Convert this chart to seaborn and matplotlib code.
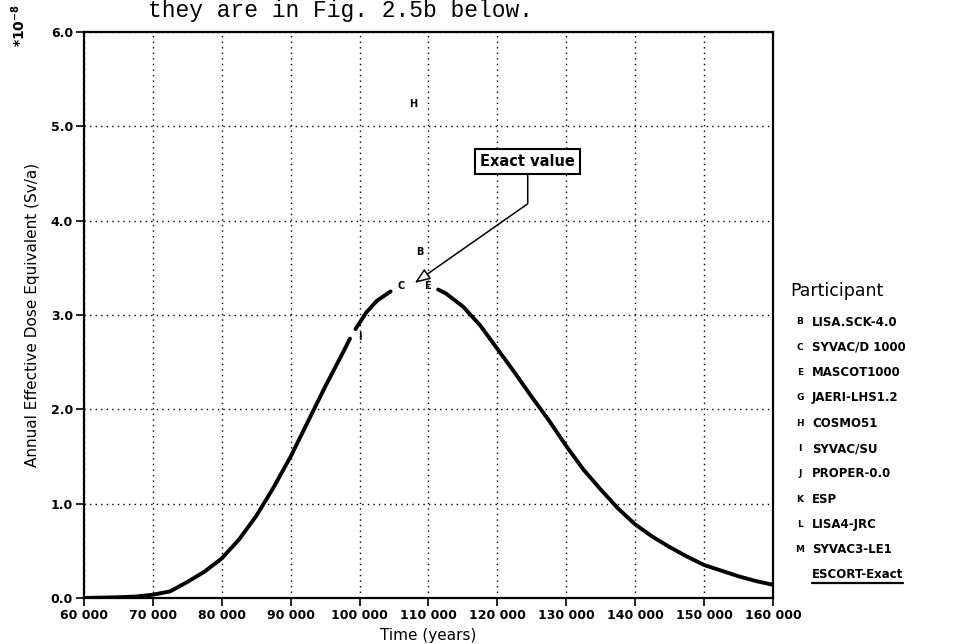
import numpy as np
import pandas as pd
import matplotlib
matplotlib.use("Agg")
import matplotlib.pyplot as plt
from matplotlib.ticker import FuncFormatter
import seaborn as sns

# ---- data ----
curve_x = [60000, 65000, 67500, 70000, 72500, 75000, 77500, 80000, 82500, 85000,
           87500, 90000, 92500, 95000, 97500, 98600, np.nan, 99400, 101000, 102500,
           104500, np.nan,
           111400, 112500, 115000, 117500, 120000, 122500, 125000, 127500, 130000,
           132500, 135000, 137500, 140000, 142500, 145000, 147500, 150000, 152500,
           155000, 157500, 160000]
curve_y = [0.0, 0.008, 0.015, 0.035, 0.07, 0.17, 0.28, 0.42, 0.62, 0.87,
           1.17, 1.50, 1.87, 2.24, 2.59, 2.75, np.nan, 2.85, 3.03, 3.15,
           3.25, np.nan,
           3.27, 3.23, 3.09, 2.89, 2.64, 2.39, 2.13, 1.88, 1.61,
           1.36, 1.15, 0.95, 0.78, 0.65, 0.54, 0.44, 0.35, 0.29,
           0.23, 0.18, 0.14]

marker_labels = ['B', 'C', 'E', 'H', 'I']
marker_x = [108800, 106000, 109900, 107800, 99970]
marker_y = [3.67, 3.31, 3.31, 5.24, 2.77]

exact_x, exact_y = 108000, 3.34
exact_label = "Exact value"

legend_codes = ['B', 'C', 'E', 'G', 'H', 'I', 'J', 'K', 'L', 'M']
legend_names = ['LISA.SCK-4.0', 'SYVAC/D 1000', 'MASCOT1000', 'JAERI-LHS1.2',
                'COSMO51', 'SYVAC/SU', 'PROPER-0.0', 'ESP', 'LISA4-JRC', 'SYVAC3-LE1']
exact_name = 'ESCORT-Exact'

x_ticks = list(range(60000, 160001, 10000))
y_ticks = [0.0, 1.0, 2.0, 3.0, 4.0, 5.0, 6.0]

# ---- build table ----
cx = np.array(curve_x, dtype=float)
cy = np.array(curve_y, dtype=float)
seg = np.cumsum(np.isnan(cx))
df = pd.DataFrame({"x": cx, "y": cy, "seg": seg}).dropna()

sns.set_style("white")
plt.rcParams['font.family'] = ['DejaVu Sans']
for k in ['text.color', 'axes.labelcolor', 'xtick.color', 'ytick.color', 'axes.edgecolor']:
    plt.rcParams[k] = 'black'

fig = plt.figure(figsize=(9.64, 6.44), dpi=100)
ax = fig.add_axes([84/964, 1 - 598/644, (773-84)/964, (598-32)/644])

sns.lineplot(data=df, x="x", y="y", units="seg", estimator=None, sort=False,
             color="black", lw=2.8, ax=ax, legend=False,
             solid_joinstyle='round', solid_capstyle='round')

for lab, mx, my in zip(marker_labels, marker_x, marker_y):
    ax.text(mx, my, lab, fontsize=7, fontweight='bold', ha='center', va='center')

ax.annotate(exact_label, xy=(exact_x, exact_y), xytext=(124400, 4.63),
            ha='center', va='center', fontsize=10.5, fontweight='bold',
            bbox=dict(boxstyle='square,pad=0.35', fc='white', ec='black', lw=1.5),
            arrowprops=dict(arrowstyle='-|>,head_length=0.9,head_width=0.35',
                            fc='white', ec='black', lw=1.1,
                            connectionstyle='angle,angleA=90,angleB=35,rad=0',
                            shrinkA=0, shrinkB=0))

ax.set_xlim(60000, 160000)
ax.set_ylim(0, 6.0)
ax.set_xticks(x_ticks)
ax.set_yticks(y_ticks)
ax.xaxis.set_major_formatter(FuncFormatter(lambda v, p: f"{int(v):,}".replace(',', ' ')))
ax.yaxis.set_major_formatter(FuncFormatter(lambda v, p: f"{v:.1f}"))
ax.grid(True, color='black', linestyle=(0, (1, 3)), lw=1.0)
ax.tick_params(axis='both', direction='out', length=6, width=1.2, labelsize=9,
               bottom=True, left=True, pad=2, colors='black')
for t in ax.get_xticklabels() + ax.get_yticklabels():
    t.set_fontweight('bold')
for s in ax.spines.values():
    s.set_color('black')
    s.set_linewidth(1.6)

ax.set_xlabel("Time (years)", fontsize=11, labelpad=4)
ax.set_ylabel("Annual Effective Dose Equivalent (Sv/a)", fontsize=11, labelpad=8)

fig.text(19/964, 1 - 4/644, r"$\mathbf{*10^{-8}}$", rotation=90, ha='center', va='top',
         fontsize=10)

fig.text(148/964, 1 - 17/644, "they are in Fig. 2.5b below.", family='Liberation Mono',
         fontsize=16.5, ha='left', va='baseline')

# legend
fig.text(790/964, 1 - 291/644, "Participant", fontsize=12.5, ha='left', va='center')
row0 = 322
dy = 25.3
for i, (c, n) in enumerate(zip(legend_codes, legend_names)):
    yy = 1 - (row0 + i * dy) / 644
    fig.text(800/964, yy, c, fontsize=6.5, fontweight='bold', ha='center', va='center')
    fig.text(812/964, yy, n, fontsize=8.5, fontweight='bold', ha='left', va='center')
yy = 1 - (row0 + len(legend_codes) * dy) / 644
et = fig.text(812/964, yy, exact_name, fontsize=8.5, fontweight='bold', ha='left', va='center')
fig.canvas.draw()
bb = et.get_window_extent().transformed(fig.transFigure.inverted())
fig.add_artist(plt.Line2D([bb.x0, bb.x1], [bb.y0 - 0.002, bb.y0 - 0.002],
                          color='black', lw=1.6, transform=fig.transFigure))

fig.savefig("out.png", dpi=100)
